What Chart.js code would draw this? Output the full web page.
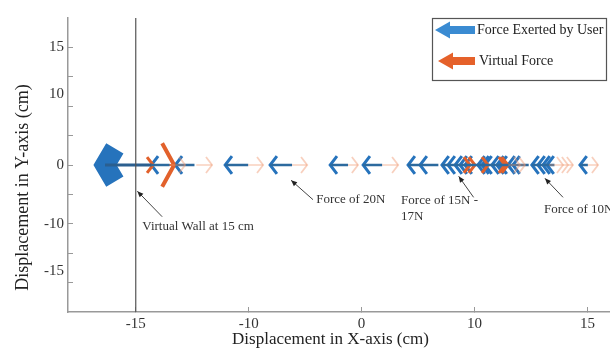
<!DOCTYPE html>
<html><head><meta charset="utf-8">
<script src="https://cdn.jsdelivr.net/npm/chart.js@4.4.0/dist/chart.umd.min.js"></script>
<style>html,body{margin:0;padding:0;background:#fff;}canvas{display:block;}</style>
</head><body>
<canvas id="c" width="610" height="350"></canvas>
<script>
// ---- axis ticks (evenly spaced marks, labels as printed in the figure)
const xTickValues = [-15, -10, -5, 0, 5];
const xTickLabels = ['-15', '-10', '0', '10', '15'];
const yTickValues = [20, 12, 0, -10, -18];
const yTickLabels = ['15', '10', '0', '-10', '-15'];
const yMinorTicks = [20, 15, 10, 5, 0, -5, -10, -15, -20];

// ---- virtual wall
const wallX = -15;

// ---- force exerted by user (blue, pointing left): head tip x, tail x
const userBurstTip = [-16.36];
const userBurstTail = [-14.3];
const userTip  = [-14.31, -13.25, -11.04, -9.05, -6.39, -4.93, -2.94, -2.41, -1.44, -1.17, -0.86, -0.64, -0.42, 0.15, 0.33, 0.46, 0.77, 0.99, 1.13, 1.48, 1.70, 2.54, 2.81, 3.03, 3.21, 4.67];
const userTail = [-13.50, -12.40, -10.02, -8.08, -5.60, -4.09, -2.20, -1.60, -0.70, -0.40, -0.10, 0.10, 0.30, 0.90, 1.05, 1.20, 1.50, 1.70, 1.85, 2.20, 2.40, 3.30, 3.50, 3.54, 3.54, 5.02];

// ---- virtual force (orange, pointing right): tail x, head tip x
const virtualBigTail = [-14.3];
const virtualBigTip  = [-13.30];
const virtualTail = [-14.80, -0.70, -0.50, 0.10, 0.85, 1.00];
const virtualTip  = [-14.23, -0.20, 0.02, 0.60, 1.35, 1.48];
const virtualFaintTail = [-13.50, -12.32, -10.02, -8.08, -5.60, -4.09, 1.50, 1.70, 3.30, 3.50, 3.54, 5.02];
const virtualFaintTip  = [-12.81, -11.62, -9.36, -7.41, -5.16, -3.38, 2.01, 2.24, 3.92, 4.14, 4.36, 5.47];

// ---- annotations (data coordinates)
const noteLines = [['Virtual Wall at 15 cm'], ['Force of 20N'], ['Force of 15N -', '17N'], ['Force of 10N']];
const noteTextX = [-14.71, -7.01, -3.25, 3.08];
const noteTextY = [-10.5, -5.9, -6.1, -7.5];
const notePointerFromX = [-13.83, -7.15, -0.04, 3.92];
const notePointerFromY = [-8.8, -5.9, -5.5, -5.5];
const notePointerToX = [-14.93, -8.12, -0.70, 3.12];
const notePointerToY = [-4.45, -2.6, -1.93, -2.27];

// ---- legend
const legendLabels = ['Force Exerted by User', 'Virtual Force'];

const BLUE = '#2673BC';
const ORANGE = '#E2612B';
const ORANGE_FAINT = 'rgba(240,150,110,0.45)';

function shafts(tails, tips) {
  const pts = [];
  tails.forEach((t, i) => { pts.push({x: t, y: 0}, {x: tips[i], y: 0}, {x: tips[i], y: null}); });
  return pts;
}
function chevrons(tips, dir, hx, hy) {
  const pts = [];
  tips.forEach(t => { pts.push({x: t + dir * hx, y: hy}, {x: t, y: 0}, {x: t + dir * hx, y: -hy}, {x: t, y: null}); });
  return pts;
}
function ds(data, color, width, extra) {
  return Object.assign({data, showLine: true, borderColor: color, backgroundColor: color, borderWidth: width,
    pointRadius: 0, pointHoverRadius: 0, spanGaps: false, tension: 0, fill: false,
    borderCapStyle: 'butt', borderJoinStyle: 'miter'}, extra || {});
}

const datasets = [
  ds([{x: wallX, y: -25}, {x: wallX, y: 25}], '#555', 1.2),
  ds(shafts(virtualFaintTail, virtualFaintTip), ORANGE_FAINT, 1.5),
  ds(chevrons(virtualFaintTip, -1, 0.27, 1.35), ORANGE_FAINT, 1.8),
  ds(shafts(userBurstTail, userBurstTip), '#2B5F8F', 3),
  ds(chevrons(userBurstTip, 1, 0.434, 2.82), BLUE, 20),
  ds(shafts(userTail, userTip), '#2C6A9E', 2.5),
  ds(shafts(virtualBigTail, virtualBigTip), ORANGE, 2),
  ds(chevrons(virtualBigTip, -1, 0.53, 3.7), ORANGE, 4),
  ds(shafts(virtualTail, virtualTip), ORANGE, 2),
  ds(chevrons(virtualTip, -1, 0.27, 1.35), ORANGE, 3),
  ds(chevrons(userTip, 1, 0.3, 1.5), BLUE, 3),
];

const serif = "'Liberation Serif', 'DejaVu Serif', serif";

const annotationPlugin = {
  id: 'notes',
  afterDraw(chart) {
    const {ctx, scales: {x, y}} = chart;
    ctx.save();
    noteLines.forEach((lines, i) => {
      const x1 = x.getPixelForValue(notePointerFromX[i]), y1 = y.getPixelForValue(notePointerFromY[i]);
      const x2 = x.getPixelForValue(notePointerToX[i]), y2 = y.getPixelForValue(notePointerToY[i]);
      ctx.strokeStyle = '#444'; ctx.lineWidth = 1;
      ctx.beginPath(); ctx.moveTo(x1, y1); ctx.lineTo(x2, y2); ctx.stroke();
      const a = Math.atan2(y2 - y1, x2 - x1), L = 6, w = 2.6;
      ctx.fillStyle = '#222';
      ctx.beginPath();
      ctx.moveTo(x2, y2);
      ctx.lineTo(x2 - L * Math.cos(a) + w * Math.sin(a), y2 - L * Math.sin(a) - w * Math.cos(a));
      ctx.lineTo(x2 - L * Math.cos(a) - w * Math.sin(a), y2 - L * Math.sin(a) + w * Math.cos(a));
      ctx.closePath(); ctx.fill();
      ctx.fillStyle = '#333';
      ctx.font = '13px ' + serif;
      ctx.textAlign = 'left'; ctx.textBaseline = 'middle';
      const tx = x.getPixelForValue(noteTextX[i]), ty = y.getPixelForValue(noteTextY[i]);
      lines.forEach((ln, k) => ctx.fillText(ln, tx, ty + k * 16));
    });
    // legend
    ctx.strokeStyle = '#555'; ctx.lineWidth = 1.2;
    ctx.strokeRect(432.5, 18.5, 174, 62);
    const legendColors = ['#3A8BD2', '#E5612A'];
    const rows = [30, 61];
    rows.forEach((cy, i) => {
      const x0 = i === 0 ? 435 : 438;
      ctx.fillStyle = legendColors[i];
      ctx.beginPath();
      ctx.moveTo(x0, cy);
      ctx.lineTo(x0 + 15, cy - 8.5);
      ctx.lineTo(x0 + 15, cy - 4);
      ctx.lineTo(475, cy - 4);
      ctx.lineTo(475, cy + 4);
      ctx.lineTo(x0 + 15, cy + 4);
      ctx.lineTo(x0 + 15, cy + 8.5);
      ctx.closePath(); ctx.fill();
      ctx.fillStyle = '#222';
      ctx.font = '14px ' + serif;
      ctx.textAlign = 'left'; ctx.textBaseline = 'middle';
      ctx.fillText(legendLabels[i], i === 0 ? 477 : 479, cy);
    });
    ctx.restore();
  }
};

new Chart(document.getElementById('c'), {
  type: 'scatter',
  data: {datasets},
  options: {
    responsive: false, animation: false, events: [],
    layout: {padding: {top: 15, right: 0, left: 0, bottom: 0}},
    plugins: {legend: {display: false}, tooltip: {enabled: false}},
    scales: {
      x: {
        type: 'linear', min: -18, max: 6,
        afterBuildTicks: s => { s.ticks = xTickValues.map(v => ({value: v})); },
        afterFit: s => { s.height = 38; },
        ticks: {autoSkip: false, padding: 8, color: '#333', font: {family: serif, size: 15},
          callback: v => { const i = xTickValues.indexOf(v); return i >= 0 ? xTickLabels[i] : ''; }},
        grid: {drawOnChartArea: false, drawTicks: true, tickLength: -5, tickColor: '#999', tickWidth: 1},
        border: {display: true, color: '#999', width: 1.5},
        title: {display: true, text: 'Displacement in X-axis (cm)' + '\u00A0'.repeat(4), color: '#222', font: {family: serif, size: 17}, padding: {top: 0, bottom: 0}}
      },
      y: {
        type: 'linear', min: -25, max: 25,
        afterBuildTicks: s => {
          const vals = Array.from(new Set(yMinorTicks.concat(yTickValues))).sort((a, b) => a - b);
          s.ticks = vals.map(v => ({value: v}));
        },
        afterFit: s => { s.width = 68; },
        ticks: {autoSkip: false, padding: 9, color: '#333', font: {family: serif, size: 15},
          callback: v => { const i = yTickValues.indexOf(v); return i >= 0 ? yTickLabels[i] : ''; }},
        grid: {drawOnChartArea: false, drawTicks: true, tickLength: -5, tickWidth: 1,
          tickColor: c => (c.tick && yMinorTicks.includes(c.tick.value)) ? '#999' : 'rgba(0,0,0,0)'},
        border: {display: true, color: '#999', width: 1.5},
        title: {display: true, text: 'Displacement in Y-axis (cm)' + '\u00A0'.repeat(10), color: '#222', font: {family: serif, size: 18}, padding: {top: 12, bottom: 0}}
      }
    }
  },
  plugins: [annotationPlugin]
});
</script>
</body></html>
